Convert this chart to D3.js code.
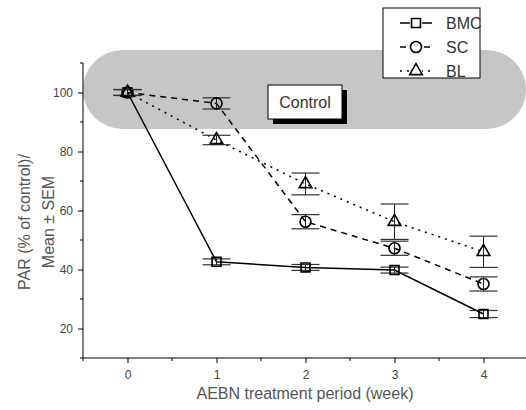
<!DOCTYPE html>
<html>
<head>
<meta charset="utf-8" />
<script src="https://cdn.jsdelivr.net/npm/d3@7/dist/d3.min.js"></script>
<style>
  body { margin: 0; background: #fff; }
  text { font-family: "Liberation Sans", Arial, sans-serif; }
</style>
</head>
<body>
<svg width="526" height="410"></svg>
<script>
// values
var weeks = [0, 1, 2, 3, 4];
var bmc = [100, 42.6, 40.7, 39.8, 24.9];
var bmcErr = [1, 1, 1, 1, 1.2];
var sc = [100, 96.3, 56.2, 47.2, 35.1];
var scErr = [1, 1.9, 2.4, 2.4, 2.4];
var bl = [100, 83.9, 69, 56.2, 46];
var blErr = [1, 1.6, 3.7, 6, 5.3];
var seriesNames = ["BMC", "SC", "BL"];
var yTicks = [20, 40, 60, 80, 100];

var svg = d3.select("svg");

var x = d3.scaleLinear().domain([-0.5, 4.5]).range([83, 528]);
var y = d3.scaleLinear().domain([10, 110]).range([358, 63]);

// grey "control" band
svg.append("rect")
  .attr("x", 83).attr("y", 50)
  .attr("width", 443).attr("height", 79)
  .attr("rx", 40).attr("ry", 39)
  .attr("fill", "#c6c6c6");

// axes
var xAxis = d3.axisBottom(x).tickValues(weeks).tickSize(5).tickFormat(d3.format("d"));
var gx = svg.append("g").attr("transform", "translate(0,358)").call(xAxis);
gx.select(".domain").attr("d", "M83,0H526");
gx.selectAll(".tick text").attr("font-size", 12).attr("fill", "#444").attr("dy", "1.05em");
// minor ticks
gx.selectAll(".minor").data([-0.5, 0.5, 1.5, 2.5, 3.5]).enter().append("line")
  .attr("x1", function(d) { return x(d); }).attr("x2", function(d) { return x(d); })
  .attr("y1", 0).attr("y2", 3).attr("stroke", "#000");

var yAxis = d3.axisLeft(y).tickValues(yTicks).tickSize(5);
var gy = svg.append("g").attr("transform", "translate(83,0)").call(yAxis);
gy.select(".domain").attr("d", "M0,63V358");
gy.selectAll(".tick text").attr("font-size", 12).attr("fill", "#444").attr("x", -10);
gy.selectAll(".minor").data([10, 30, 50, 70, 90, 110]).enter().append("line")
  .attr("x1", 0).attr("x2", -3)
  .attr("y1", function(d) { return y(d); }).attr("y2", function(d) { return y(d); })
  .attr("stroke", "#000");

svg.selectAll(".domain, .tick line").attr("stroke", "#000");
svg.selectAll(".tick text").attr("font-family", "Liberation Sans, Arial, sans-serif");

// axis titles
svg.append("text")
  .attr("x", 305).attr("y", 399)
  .attr("text-anchor", "middle").attr("font-size", 16).attr("fill", "#555")
  .text("AEBN treatment period (week)");

var ylab = svg.append("text")
  .attr("transform", "translate(0,222) rotate(-90)")
  .attr("text-anchor", "middle").attr("font-size", 16).attr("fill", "#555");
ylab.append("tspan").attr("x", 0).attr("y", 30).text("PAR (% of control)/");
ylab.append("tspan").attr("x", 0).attr("y", 54).text("Mean ± SEM");

// control label box
svg.append("rect").attr("x", 273).attr("y", 90).attr("width", 74).attr("height", 34).attr("fill", "#000");
svg.append("rect").attr("x", 268).attr("y", 85).attr("width", 74).attr("height", 34)
  .attr("fill", "#fff").attr("stroke", "#000").attr("stroke-width", 1);
svg.append("text").attr("x", 305).attr("y", 108).attr("text-anchor", "middle")
  .attr("font-size", 16).attr("fill", "#333").text("Control");

var series = [
  { name: "BMC", vals: bmc, err: bmcErr, dash: null, shape: d3.symbolSquare, size: 80 },
  { name: "SC", vals: sc, err: scErr, dash: "6,5", shape: d3.symbolCircle, size: 95 },
  { name: "BL", vals: bl, err: blErr, dash: "2,5", shape: d3.symbolTriangle, size: 70 }
];

var line = d3.line()
  .x(function(d) { return x(d.w); })
  .y(function(d) { return y(d.v); });

series.forEach(function(s) {
  var pts = weeks.map(function(w, i) { return { w: w, v: s.vals[i], e: s.err[i] }; });
  svg.append("path").datum(pts)
    .attr("d", line)
    .attr("fill", "none").attr("stroke", "#000").attr("stroke-width", 1.5)
    .attr("stroke-dasharray", s.dash);

  var g = svg.append("g");
  // error bars
  pts.forEach(function(p) {
    var cx = x(p.w);
    g.append("line").attr("x1", cx).attr("x2", cx)
      .attr("y1", y(p.v + p.e)).attr("y2", y(p.v - p.e))
      .attr("stroke", "#222").attr("stroke-width", 1);
    [p.v + p.e, p.v - p.e].forEach(function(v) {
      g.append("line").attr("x1", cx - 14).attr("x2", cx + 14)
        .attr("y1", y(v)).attr("y2", y(v))
        .attr("stroke", "#333").attr("stroke-width", 1.2);
    });
  });
  g.selectAll("path.m").data(pts).enter().append("path")
    .attr("class", "m")
    .attr("d", d3.symbol().type(s.shape).size(s.size))
    .attr("transform", function(d) { return "translate(" + x(d.w) + "," + y(d.v) + ")"; })
    .attr("fill", "none").attr("stroke", "#000").attr("stroke-width", 1.6);
});

// legend
var leg = svg.append("g");
leg.append("rect").attr("x", 383).attr("y", 8).attr("width", 97).attr("height", 70)
  .attr("fill", "#fff").attr("stroke", "#000");
series.forEach(function(s, i) {
  var ly = 23 + i * 24;
  leg.append("line").attr("x1", 400).attr("x2", 432).attr("y1", ly).attr("y2", ly)
    .attr("stroke", "#000").attr("stroke-width", 1.5).attr("stroke-dasharray", i === 0 ? "10,12" : (i === 1 ? "6,18" : "2,5"));
  leg.append("rect").attr("x", 410).attr("y", ly - 6).attr("width", 12).attr("height", 12).attr("fill", "#fff");
  leg.append("path")
    .attr("d", d3.symbol().type(s.shape).size(s.size))
    .attr("transform", "translate(416," + ly + ")")
    .attr("fill", "none").attr("stroke", "#000").attr("stroke-width", 1.6);
  leg.append("text").attr("x", 446).attr("y", ly + 6).attr("font-size", 16).attr("fill", "#333").text(s.name);
});
</script>
</body>
</html>
